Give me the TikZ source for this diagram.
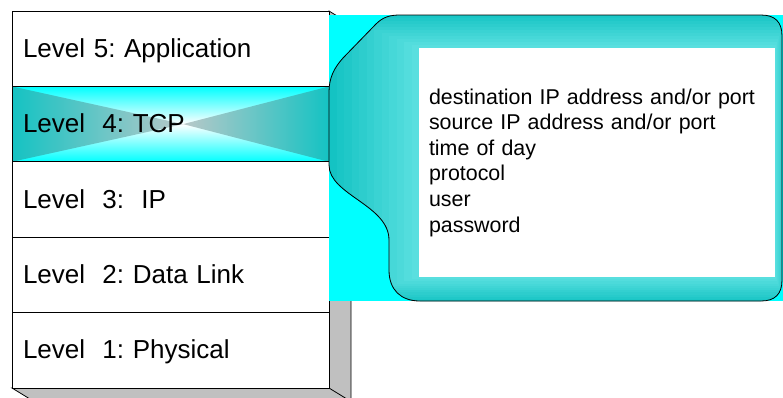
\documentclass[tikz,border=0pt]{standalone}
\usepackage{fontspec}
\setmainfont{Liberation Sans}
\usetikzlibrary{calc}
\definecolor{tcpcyan}{RGB}{0,255,255}
\definecolor{tealdark}{RGB}{20,195,195}
\definecolor{teallight}{RGB}{95,226,226}
\definecolor{stripgray}{RGB}{185,200,200}
\definecolor{sidegray}{RGB}{192,192,192}
\frenchspacing

\begin{document}
\begin{tikzpicture}[x=1pt, y=-1pt,
  layer/.style={draw=black, line width=0.8pt, fill=white, anchor=north west,
    outer sep=0pt, inner xsep=11pt, inner ysep=0pt, text width=295pt, align=left,
    minimum height=75.4pt, text height=19pt, text depth=2pt,
    font=\fontsize{26}{31}\selectfont},
  plain/.style={},
  tcp/.style={path picture={
    \shade[top color=tcpcyan, bottom color=tcpcyan, middle color=white]
      (path picture bounding box.south west) rectangle (path picture bounding box.north east);
    \shade[left color=tealdark, right color=stripgray] (path picture bounding box.north west)
      -- ($(path picture bounding box.west)!0.54!(path picture bounding box.east)$)
      -- (path picture bounding box.south west) -- cycle;
    \shade[left color=stripgray, right color=tealdark] (path picture bounding box.north east)
      -- ($(path picture bounding box.west)!0.54!(path picture bounding box.east)$)
      -- (path picture bounding box.south east) -- cycle;
  }},
  crit/.style={fill=white, minimum width=356pt, minimum height=229pt, inner xsep=10pt,
    text width=336pt, align=left, font=\fontsize{21.4}{25.6}\selectfont}]
\clip (0,0) rectangle (783,397);

% grey side and bottom of the stack
\filldraw[fill=sidegray, draw=black, line width=0.8pt] (329,11) -- (351,24.5) -- (351,401.5)
  -- (34,401.5) -- (12,388) -- (329,388) -- cycle;
\draw[line width=0.8pt] (329,388) -- (351,401.5);

% the five levels
\foreach \n/\st/\lbl [count=\i from 0] in {5/plain/{Level 5: Application}, 4/tcp/{Level\ \ 4: TCP},
    3/plain/{Level\ \ 3:\ \ IP}, 2/plain/{Level\ \ 2: Data Link}, 1/plain/{Level\ \ 1: Physical}} {
  \node[layer, \st] (l\n) at (12,11+75.4*\i) {\lbl};
}

% callout
\fill[tcpcyan] (329,15) rectangle (783,301);
\draw[fill=tealdark, line width=0.8pt, path picture={
    \foreach \k in {12,...,1} {
      \pgfmathsetmacro\p{\k*100/12}
      \fill[tealdark!\p!teallight] (419-7.5*\k,48-3*\k) rectangle (775+1*\k,277+2.2*\k);
    }}]
  (400,15) -- (761,15) .. controls (775,15) and (782,22) .. (782,36) -- (782,280)
  .. controls (782,294) and (775,301) .. (761,301) -- (420,301)
  .. controls (401,301) and (389,290) .. (389,270) -- (389,240)
  .. controls (389,205) and (329,195) .. (329,165) -- (329,92)
  .. controls (329,78) and (334,68) .. (343,58) -- (376,24)
  .. controls (383,17) and (390,15) .. (400,15) -- cycle;

\node[crit] (crit) at (597,162.5) {destination IP address and/or port\\source IP address and/or port\\time of day\\protocol\\user\\password};
\end{tikzpicture}
\end{document}
